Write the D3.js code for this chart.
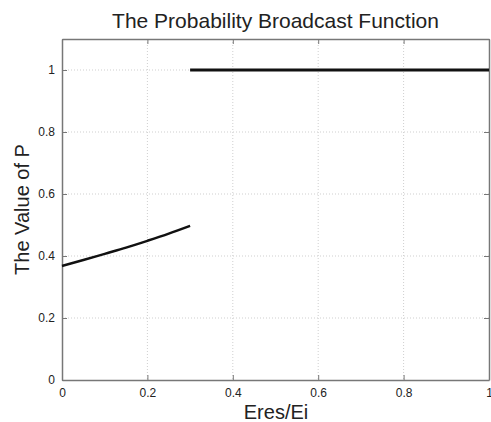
<!DOCTYPE html>
<html>
<head>
<meta charset="utf-8">
<script src="https://cdn.jsdelivr.net/npm/d3@7"></script>
<style>
  body { margin: 0; background: #fff; }
  svg text { font-family: "Liberation Sans", Arial, sans-serif; fill: #222; }
</style>
</head>
<body>
<div id="chart"></div>
<script>
// curve, x in Eres/Ei
lowX = [0, 0.05, 0.1, 0.15, 0.2, 0.25, 0.3];
lowP = [0.368, 0.387, 0.407, 0.427, 0.449, 0.472, 0.497];
highX = [0.3, 1];
highP = [1, 1];
xTicks = [0, 0.2, 0.4, 0.6, 0.8, 1];
yTicks = [0, 0.2, 0.4, 0.6, 0.8, 1];

width = 491;
height = 422;
padLeft = 62; padRight = 489; padTop = 39; padBottom = 380;

svg = d3.select("#chart").append("svg")
    .attr("width", width)
    .attr("height", height);

x = d3.scaleLinear().domain([0, 1]).range([padLeft, padRight]);
y = d3.scaleLinear().domain([0, 1.1]).range([padBottom, padTop]);

// grid
svg.append("g").selectAll("line")
    .data(xTicks.slice(1, -1))
    .join("line")
    .attr("x1", d => x(d)).attr("x2", d => x(d))
    .attr("y1", padTop).attr("y2", padBottom)
    .style("stroke", "#cfcfcf")
    .style("stroke-width", 1)
    .style("stroke-dasharray", "1,2");

svg.append("g").selectAll("line")
    .data(yTicks.slice(1))
    .join("line")
    .attr("x1", padLeft).attr("x2", padRight)
    .attr("y1", d => y(d)).attr("y2", d => y(d))
    .style("stroke", "#cfcfcf")
    .style("stroke-width", 1)
    .style("stroke-dasharray", "1,2");

// axes, ticks pointing inward
xAxis = svg.append("g")
    .attr("transform", "translate(0," + padBottom + ")")
    .call(d3.axisBottom(x).tickValues(xTicks).tickFormat(d3.format("")).tickSizeInner(-5).tickSizeOuter(0).tickPadding(8));
yAxis = svg.append("g")
    .attr("transform", "translate(" + padLeft + ",0)")
    .call(d3.axisLeft(y).tickValues(yTicks).tickFormat(d3.format("")).tickSizeInner(-5).tickSizeOuter(0).tickPadding(7));
topAxis = svg.append("g")
    .attr("transform", "translate(0," + padTop + ")")
    .call(d3.axisTop(x).tickValues(xTicks).tickFormat("").tickSizeInner(-5).tickSizeOuter(0));
rightAxis = svg.append("g")
    .attr("transform", "translate(" + padRight + ",0)")
    .call(d3.axisRight(y).tickValues(yTicks).tickFormat("").tickSizeInner(-5).tickSizeOuter(0));

[xAxis, yAxis, topAxis, rightAxis].forEach(function(a) {
    a.selectAll("path").style("stroke", "#777").style("stroke-width", 1.5);
    a.selectAll("line").style("stroke", "#777");
    a.selectAll("text").style("font-size", "12px").style("fill", "#222");
});

line = d3.line().x(d => x(d[0])).y(d => y(d[1])).curve(d3.curveMonotoneX);

svg.append("path")
    .datum(d3.zip(lowX, lowP))
    .attr("d", line)
    .style("fill", "none")
    .style("stroke", "#111")
    .style("stroke-width", 2.5);

svg.append("path")
    .datum(d3.zip(highX, highP))
    .attr("d", line)
    .style("fill", "none")
    .style("stroke", "#111")
    .style("stroke-width", 3);

svg.append("text")
    .attr("x", (padLeft + padRight) / 2)
    .attr("y", 28)
    .attr("text-anchor", "middle")
    .style("font-size", "21px")
    .text("The Probability Broadcast Function");

svg.append("text")
    .attr("x", 276)
    .attr("y", 419)
    .attr("text-anchor", "middle")
    .style("font-size", "20px")
    .text("Eres/Ei");

svg.append("text")
    .attr("transform", "translate(29," + ((padTop + padBottom) / 2) + ") rotate(-90)")
    .attr("text-anchor", "middle")
    .style("font-size", "20px")
    .text("The Value of P");
</script>
</body>
</html>
